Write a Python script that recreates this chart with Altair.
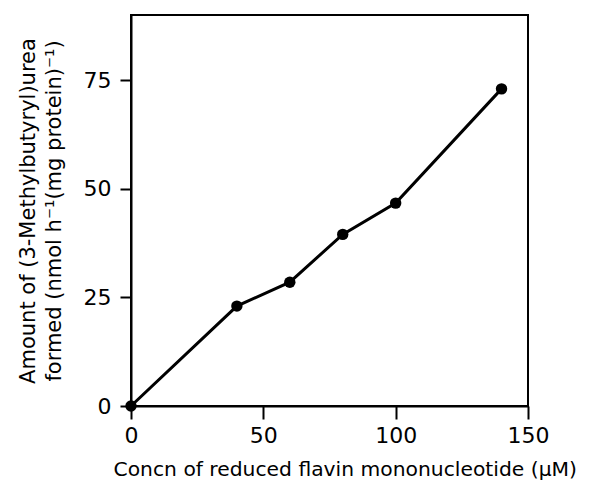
import altair as alt
import pandas as pd

conc = [0, 40, 60, 80, 100, 140]
amount = [0, 23, 28.5, 39.5, 46.7, 73]

df = pd.DataFrame({"conc": conc, "amount": amount})

FONT = "DejaVu Sans"

x = alt.X("conc:Q", scale=alt.Scale(domain=[0, 150], nice=False),
          axis=alt.Axis(values=[0, 50, 100, 150], title="Concn of reduced flavin mononucleotide (\u03bcM)",
                        titleX=-18, titleY=69, titleAlign="left", titleAnchor="start",
                        titleBaseline="alphabetic", titleFontSize=20.3))
y = alt.Y("amount:Q", scale=alt.Scale(domain=[0, 90], nice=False),
          axis=alt.Axis(values=[0, 25, 50, 75],
                        title=["Amount of (3-Methylbutyryl)urea", "formed (nmol h\u207b\u00b9(mg protein)\u207b\u00b9)"]))

base = alt.Chart(df).encode(x=x, y=y)
line = base.mark_line(color="black", strokeWidth=3)
pts = base.mark_point(filled=True, color="black", size=130, opacity=1)

chart = (line + pts).properties(
    width=397, height=391,
    autosize=alt.AutoSizeParams(type="none"),
    padding={"left": 123, "top": 7, "right": 56, "bottom": 76},
).configure_view(stroke="black", strokeWidth=2).configure_axis(
    domainColor="black", domainWidth=2, tickColor="black", tickWidth=2,
    tickSize=11, grid=False, labelFont=FONT, labelFontSize=22, labelColor="black",
    titleFont=FONT, titleFontSize=21, titleColor="black", titleFontWeight="normal",
    labelPadding=9, labelFlush=False,
).configure_axisX(labelPadding=6, tickSize=13).configure_axisY(titlePadding=19, titleLineHeight=26)

chart.save("out.html", embed_options={"renderer": "svg", "actions": False})
